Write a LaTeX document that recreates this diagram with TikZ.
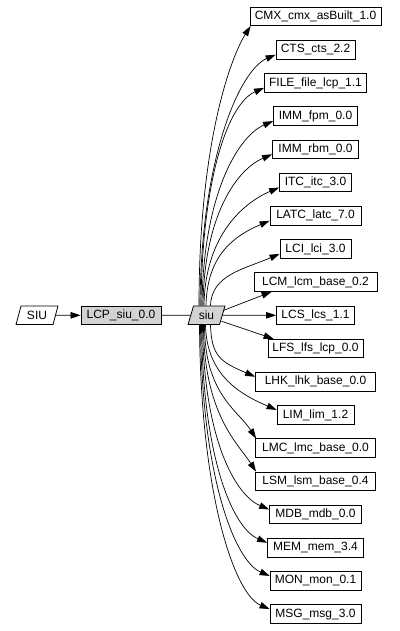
\documentclass[tikz,border=0pt]{standalone}
\usepackage{fontspec}
\setmainfont{Liberation Sans}
\usetikzlibrary{arrows.meta,calc,shapes.geometric}
\definecolor{lgray}{HTML}{D3D3D3}
\begin{document}
\begin{tikzpicture}[x=1pt,y=-1pt,
  font=\fontsize{12}{14}\selectfont,
  box/.style={draw, line width=0.8pt, rectangle, minimum height=18.5pt, inner sep=0pt, fill=white},
  pg/.style={draw, line width=0.8pt, trapezium, trapezium left angle=70, trapezium right angle=110, trapezium stretches=true, minimum height=18.5pt, inner sep=0pt},
  edge/.style={line width=0.7pt, -{Triangle[length=10pt,width=6.5pt]}},
  plain/.style={line width=0.7pt}]
\useasboundingbox (0,0) rectangle (399,631);
% left part
\node[pg, fill=white, minimum width=42pt] (SIU) at (37,315.3) {SIU};
\node[box, fill=lgray, minimum width=80pt] (LCP) at (121,315.3) {LCP\_siu\_0.0};
\node[pg, fill=lgray, minimum width=37pt] (siu) at (206.5,315.3) {siu};
% right column
\node[box, minimum width=131pt] (CMX) at (315.5,16.5) {CMX\_cmx\_asBuilt\_1.0};
\node[box, minimum width=79pt] (CTS) at (315.5,49.7) {CTS\_cts\_2.2};
\node[box, minimum width=102pt] (FILE) at (315.5,82.9) {FILE\_file\_lcp\_1.1};
\node[box, minimum width=84pt] (IMMf) at (315.5,116.1) {IMM\_fpm\_0.0};
\node[box, minimum width=86pt] (IMMr) at (315.5,149.3) {IMM\_rbm\_0.0};
\node[box, minimum width=72pt] (ITC) at (315.5,182.5) {ITC\_itc\_3.0};
\node[box, minimum width=91pt] (LATC) at (315.5,215.7) {LATC\_latc\_7.0};
\node[box, minimum width=71pt] (LCI) at (315.5,248.9) {LCI\_lci\_3.0};
\node[box, minimum width=123pt] (LCM) at (315.5,282.1) {LCM\_lcm\_base\_0.2};
\node[box, minimum width=78pt] (LCS) at (315.5,315.3) {LCS\_lcs\_1.1};
\node[box, minimum width=95pt] (LFS) at (315.5,348.5) {LFS\_lfs\_lcp\_0.0};
\node[box, minimum width=120pt] (LHK) at (315.5,381.7) {LHK\_lhk\_base\_0.0};
\node[box, minimum width=77pt] (LIM) at (315.5,414.9) {LIM\_lim\_1.2};
\node[box, minimum width=120pt] (LMC) at (315.5,448.1) {LMC\_lmc\_base\_0.0};
\node[box, minimum width=120pt] (LSM) at (315.5,481.3) {LSM\_lsm\_base\_0.4};
\node[box, minimum width=92pt] (MDB) at (315.5,514.5) {MDB\_mdb\_0.0};
\node[box, minimum width=96pt] (MEM) at (315.5,547.7) {MEM\_mem\_3.4};
\node[box, minimum width=91pt] (MON) at (315.5,580.9) {MON\_mon\_0.1};
\node[box, minimum width=91pt] (MSG) at (315.5,614.1) {MSG\_msg\_3.0};
% left edges
\draw[edge] (SIU.east) -- (LCP.west);
\draw[plain] (LCP.east) -- (siu.west);
% upper edges
\draw[edge] ($(siu.north)+(-7.5,0)$) .. controls +(0,-168) and +(-18,28) .. ($(CMX.south west)+(1,0)$);
\draw[edge] ($(siu.north)+(-6.5,0)$) .. controls +(1,-151) and +(-35,15) .. ($(CTS.west)+(0,5)$);
\draw[edge] ($(siu.north)+(-5.5,0)$) .. controls +(1,-131) and +(-35,15) .. ($(FILE.west)+(0,5)$);
\draw[edge] ($(siu.north)+(-4.5,0)$) .. controls +(1,-111) and +(-35,15) .. ($(IMMf.west)+(0,5)$);
\draw[edge] ($(siu.north)+(-3.5,0)$) .. controls +(1,-91) and +(-35,15) .. ($(IMMr.west)+(0,5)$);
\draw[edge] ($(siu.north)+(-2.5,0)$) .. controls +(1,-71) and +(-35,15) .. ($(ITC.west)+(0,5)$);
\draw[edge] ($(siu.north)+(-0.5,0)$) .. controls +(1,-51) and +(-35,15) .. ($(LATC.west)+(0,5)$);
\draw[edge] ($(siu.north)+(4,0)$) .. controls +(1,-31) and +(-35,15) .. ($(LCI.west)+(0,5)$);
% straight edges
\draw[edge] ($(siu.east)+(1,-5)$) -- ($(LCM.south west)+(18,0)$);
\draw[edge] (siu.east) -- (LCS.west);
\draw[edge] ($(siu.east)+(-1,6)$) -- ($(LFS.north west)+(6,0)$);
% lower edges
\draw[edge] ($(siu.south)+(4,0)$) .. controls +(1,31) and +(-35,-15) .. ($(LHK.west)+(0,-5)$);
\draw[edge] ($(siu.south)+(-1,0)$) .. controls +(1,51) and +(-35,-15) .. ($(LIM.west)+(0,-5)$);
\draw[edge] ($(siu.south)+(-2,0)$) .. controls +(0,69) and +(-18,-28) .. ($(LMC.north west)+(1,0)$);
\draw[edge] ($(siu.south)+(-3,0)$) .. controls +(0,89) and +(-18,-28) .. ($(LSM.north west)+(1,0)$);
\draw[edge] ($(siu.south)+(-4,0)$) .. controls +(1,111) and +(-35,-15) .. ($(MDB.west)+(0,-5)$);
\draw[edge] ($(siu.south)+(-5,0)$) .. controls +(1,131) and +(-35,-15) .. ($(MEM.west)+(0,-5)$);
\draw[edge] ($(siu.south)+(-6,0)$) .. controls +(1,151) and +(-35,-15) .. ($(MON.west)+(0,-5)$);
\draw[edge] ($(siu.south)+(-7,0)$) .. controls +(1,171) and +(-35,-15) .. ($(MSG.west)+(0,-5)$);
\end{tikzpicture}
\end{document}
